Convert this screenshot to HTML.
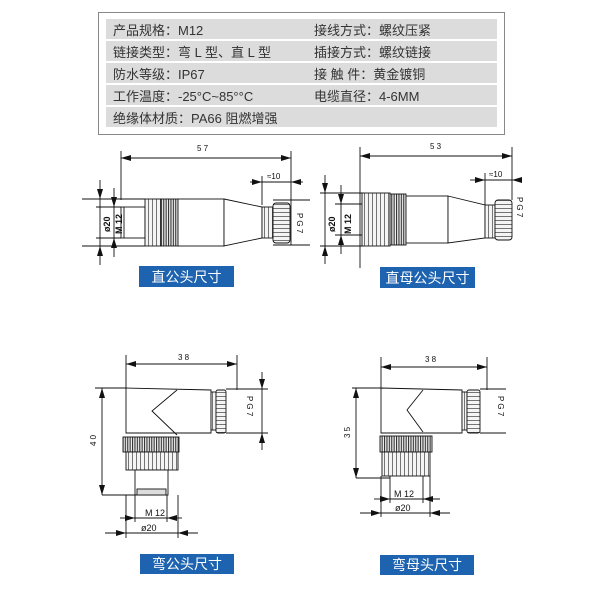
<!DOCTYPE html>
<html><head><meta charset="utf-8"><style>
html,body{margin:0;padding:0;background:#fff;}
svg{display:block;}
.t{font-family:"Liberation Sans","Noto Sans CJK SC",sans-serif;}
</style></head><body>
<svg width="600" height="600" viewBox="0 0 600 600" xmlns="http://www.w3.org/2000/svg">
<defs>
<marker id="a" viewBox="0 0 10 6" refX="10" refY="3" markerWidth="10" markerHeight="6" orient="auto-start-reverse" markerUnits="userSpaceOnUse"><path d="M0,0L10,3L0,6z" fill="#111"/></marker>
<pattern id="k" width="2.4" height="10" patternUnits="userSpaceOnUse"><rect width="2.4" height="10" fill="#eee"/><rect width="1.1" height="10" fill="#333"/></pattern>
<pattern id="r" width="4" height="10" patternUnits="userSpaceOnUse"><rect width="4" height="10" fill="#f4f4f4"/><rect width="0.8" height="10" fill="#555"/></pattern>
<pattern id="rh" width="10" height="4" patternUnits="userSpaceOnUse"><rect width="10" height="4" fill="#f4f4f4"/><rect width="10" height="0.8" fill="#555"/></pattern>
</defs>
<!-- table -->
<rect x="98.5" y="12.5" width="406" height="122" fill="#fff" stroke="#888"/>
<g fill="#dcdcdc">
<rect x="106" y="19" width="391" height="20"/>
<rect x="106" y="41" width="391" height="20"/>
<rect x="106" y="63" width="391" height="20"/>
<rect x="106" y="85" width="391" height="20"/>
<rect x="106" y="107" width="391" height="20"/>
</g>
<g class="t" font-size="13" fill="#333">
<text x="113" y="35">产品规格：M12</text><text x="314" y="35">接线方式：螺纹压紧</text>
<text x="113" y="57">链接类型：弯 L 型、直 L 型</text><text x="314" y="57">插接方式：螺纹链接</text>
<text x="113" y="79">防水等级：IP67</text><text x="314" y="79">接 触 件：黄金镀铜</text>
<text x="113" y="101">工作温度：-25°C~85°°C</text><text x="314" y="101">电缆直径：4-6MM</text>
<text x="113" y="123">绝缘体材质：PA66 阻燃增强</text>
</g>

<g stroke="#111" stroke-width="0.9" fill="none">
<!-- straight male -->
<line x1="121" y1="151" x2="121" y2="200"/><line x1="291" y1="151" x2="291" y2="245"/>
<line x1="121" y1="158" x2="291" y2="158" marker-start="url(#a)" marker-end="url(#a)"/>
<line x1="262" y1="176" x2="262" y2="205"/>
<line x1="250" y1="182" x2="262" y2="182" marker-end="url(#a)"/><line x1="303" y1="182" x2="291" y2="182" marker-end="url(#a)"/><line x1="262" y1="182" x2="291" y2="182"/>
<line x1="82" y1="199" x2="145" y2="199"/><line x1="82" y1="246" x2="145" y2="246"/>
<line x1="96" y1="207" x2="121" y2="207"/><line x1="96" y1="238" x2="121" y2="238"/>
<line x1="100" y1="180" x2="100" y2="199" marker-end="url(#a)"/><line x1="100" y1="265" x2="100" y2="246" marker-end="url(#a)"/><line x1="100" y1="199" x2="100" y2="246"/>
<line x1="114" y1="188" x2="114" y2="207" marker-end="url(#a)"/><line x1="114" y1="257" x2="114" y2="238" marker-end="url(#a)"/><line x1="114" y1="207" x2="114" y2="238"/>
<rect x="121" y="207" width="24" height="31" fill="#fff"/><line x1="124" y1="207" x2="124" y2="238"/>
<rect x="145" y="199" width="16" height="47" fill="url(#r)"/>
<rect x="161" y="199" width="17" height="47" fill="url(#k)"/>
<rect x="178" y="199" width="46" height="47" fill="#fff"/>
<path d="M224,199L262,207L262,238L224,246z" fill="#fff"/>
<rect x="262" y="207" width="11" height="31" fill="url(#r)"/>
<rect x="273" y="203" width="17" height="40" rx="3" fill="url(#rh)"/>
<line x1="273" y1="200" x2="310" y2="200"/><line x1="273" y1="245" x2="310" y2="245"/>

<!-- straight female -->
<line x1="360" y1="147" x2="360" y2="268"/><line x1="512" y1="147" x2="512" y2="200"/>
<line x1="360" y1="156" x2="512" y2="156" marker-start="url(#a)" marker-end="url(#a)"/>
<line x1="485" y1="173" x2="485" y2="205"/>
<line x1="470" y1="180" x2="485" y2="180" marker-end="url(#a)"/><line x1="522" y1="180" x2="512" y2="180" marker-end="url(#a)"/><line x1="485" y1="180" x2="512" y2="180"/>
<line x1="320" y1="193" x2="364" y2="193"/><line x1="320" y1="246" x2="364" y2="246"/>
<line x1="335" y1="204" x2="364" y2="204"/><line x1="335" y1="235" x2="364" y2="235"/>
<line x1="325" y1="175" x2="325" y2="193" marker-end="url(#a)"/><line x1="325" y1="264" x2="325" y2="246" marker-end="url(#a)"/><line x1="325" y1="193" x2="325" y2="246"/>
<line x1="341" y1="185" x2="341" y2="204" marker-end="url(#a)"/><line x1="341" y1="254" x2="341" y2="235" marker-end="url(#a)"/><line x1="341" y1="204" x2="341" y2="235"/>
<rect x="362" y="193" width="28" height="53" fill="url(#r)"/>
<rect x="390" y="194" width="16" height="51" fill="url(#k)"/>
<rect x="406" y="196" width="42" height="47" fill="#fff"/>
<path d="M448,196L485,205L485,238L448,243z" fill="#fff"/>
<rect x="485" y="205" width="10" height="33" fill="url(#r)"/>
<rect x="495" y="200" width="17" height="40" rx="3" fill="url(#rh)"/>

<!-- angled male -->
<line x1="126" y1="355" x2="126" y2="388"/><line x1="237" y1="355" x2="237" y2="390"/>
<line x1="126" y1="364" x2="237" y2="364" marker-start="url(#a)" marker-end="url(#a)"/>
<line x1="95" y1="388" x2="126" y2="388"/>
<path d="M126,388L211,390L211,433L126,433z" fill="#fff"/>
<path d="M177,390L152,411L177,435"/>
<rect x="211" y="392" width="5" height="38" fill="url(#r)"/>
<rect x="216" y="390" width="10" height="43" rx="2" fill="url(#rh)"/>
<line x1="226" y1="389" x2="268" y2="389"/><line x1="226" y1="433" x2="268" y2="433"/>
<line x1="262" y1="372" x2="262" y2="389" marker-end="url(#a)"/><line x1="262" y1="450" x2="262" y2="433" marker-end="url(#a)"/><line x1="262" y1="389" x2="262" y2="433"/>
<rect x="123" y="437" width="56" height="15" fill="url(#k)"/>
<rect x="126" y="452" width="52" height="18" fill="url(#r)"/>
<rect x="135" y="470" width="33" height="25" fill="#fff"/>
<rect x="137" y="489" width="29" height="6" fill="#ddd"/>
<line x1="102" y1="495" x2="137" y2="495"/>
<line x1="102" y1="388" x2="102" y2="495" marker-start="url(#a)" marker-end="url(#a)"/>
<line x1="126" y1="495" x2="126" y2="538"/><line x1="178" y1="495" x2="178" y2="538"/>
<line x1="135" y1="495" x2="135" y2="522"/><line x1="167" y1="495" x2="167" y2="522"/>
<line x1="120" y1="518" x2="135" y2="518" marker-end="url(#a)"/><line x1="182" y1="518" x2="167" y2="518" marker-end="url(#a)"/><line x1="135" y1="518" x2="167" y2="518"/>
<line x1="105" y1="533" x2="126" y2="533" marker-end="url(#a)"/><line x1="198" y1="533" x2="178" y2="533" marker-end="url(#a)"/><line x1="126" y1="533" x2="178" y2="533"/>

<!-- angled female -->
<line x1="381" y1="357" x2="381" y2="388"/><line x1="487" y1="357" x2="487" y2="390"/>
<line x1="381" y1="367" x2="487" y2="367" marker-start="url(#a)" marker-end="url(#a)"/>
<line x1="352" y1="388" x2="381" y2="388"/>
<path d="M381,388L462,390L462,433L381,433z" fill="#fff"/>
<path d="M423,390L407,410L423,432"/>
<rect x="462" y="392" width="5" height="38" fill="url(#r)"/>
<rect x="467" y="390" width="13" height="43" rx="2" fill="url(#rh)"/>
<line x1="480" y1="389" x2="506" y2="389"/><line x1="480" y1="433" x2="506" y2="433"/>
<rect x="380" y="436" width="52" height="16" fill="url(#k)"/>
<rect x="382" y="452" width="48" height="24" fill="url(#r)"/>
<line x1="356" y1="478" x2="390" y2="478"/>
<line x1="356" y1="388" x2="356" y2="478" marker-start="url(#a)" marker-end="url(#a)"/>
<line x1="390" y1="476" x2="390" y2="503"/><line x1="423" y1="476" x2="423" y2="503"/>
<line x1="381" y1="476" x2="381" y2="517"/><line x1="430" y1="476" x2="430" y2="517"/>
<line x1="374" y1="499" x2="390" y2="499" marker-end="url(#a)"/><line x1="440" y1="499" x2="423" y2="499" marker-end="url(#a)"/><line x1="390" y1="499" x2="423" y2="499"/>
<line x1="360" y1="513" x2="381" y2="513" marker-end="url(#a)"/><line x1="450" y1="513" x2="430" y2="513" marker-end="url(#a)"/><line x1="381" y1="513" x2="430" y2="513"/>
</g>

<g class="t" fill="#111" font-size="8">
<text x="197" y="151">5  7</text>
<text x="430" y="149">5  3</text>
<text x="267" y="179">≈10</text>
<text x="489" y="177">≈10</text>
<text x="178" y="360">3  8</text>
<text x="425" y="362">3  8</text>
<text x="145" y="516" font-size="9">M 12</text>
<text x="141" y="531" font-size="9">ø20</text>
<text x="394" y="497" font-size="9">M 12</text>
<text x="395" y="511" font-size="9">ø20</text>
<text transform="translate(110,232) rotate(-90)" font-size="9" font-weight="bold">ø20</text>
<text transform="translate(122,234) rotate(-90)" font-size="9" font-weight="bold">M 12</text>
<text transform="translate(335,232) rotate(-90)" font-size="9" font-weight="bold">ø20</text>
<text transform="translate(351,234) rotate(-90)" font-size="9" font-weight="bold">M 12</text>
<text transform="translate(297,213) rotate(90)">P  G  7</text>
<text transform="translate(517,197) rotate(90)">P  G  7</text>
<text transform="translate(247,396) rotate(90)">P  G  7</text>
<text transform="translate(498,396) rotate(90)">P  G  7</text>
<text transform="translate(96,446) rotate(-90)">4  0</text>
<text transform="translate(350,438) rotate(-90)">3  5</text>
</g>

<g class="t" font-size="14">
<rect x="139" y="266" width="95" height="21" fill="#1d63b0"/><text x="186.5" y="282" fill="#fff" text-anchor="middle">直公头尺寸</text>
<rect x="380" y="267" width="95" height="21" fill="#1d63b0"/><text x="427.5" y="283" fill="#fff" text-anchor="middle">直母公头尺寸</text>
<rect x="140" y="554" width="94" height="20" fill="#1d63b0"/><text x="187" y="569" fill="#fff" text-anchor="middle">弯公头尺寸</text>
<rect x="380" y="555" width="94" height="20" fill="#1d63b0"/><text x="427" y="570" fill="#fff" text-anchor="middle">弯母头尺寸</text>
</g>
</svg>
</body></html>
